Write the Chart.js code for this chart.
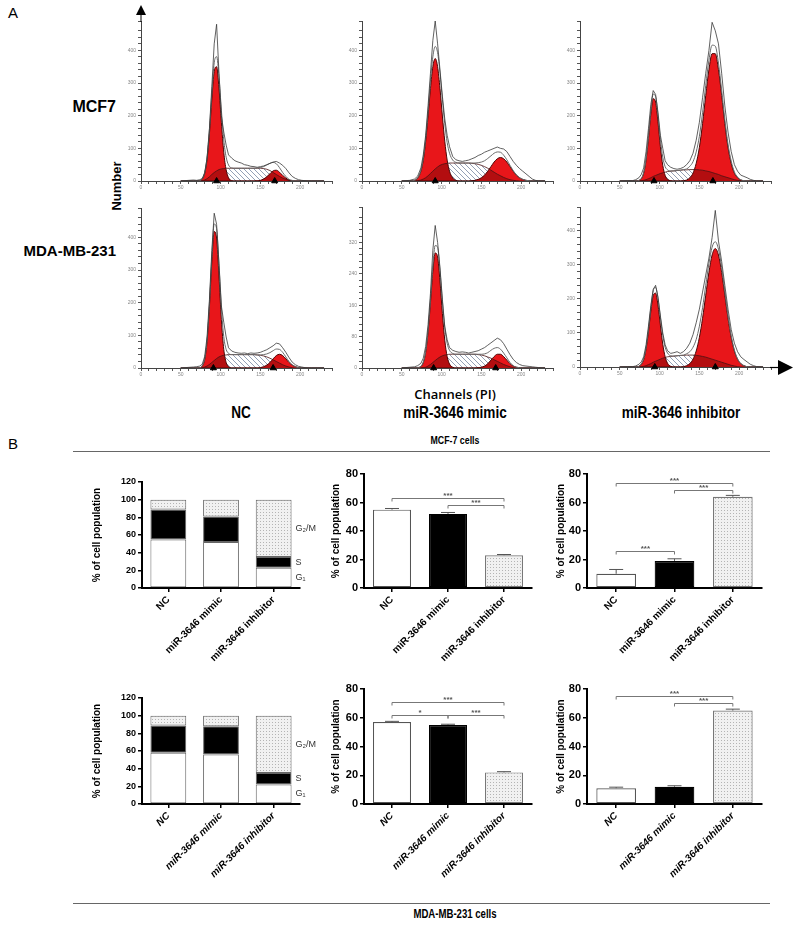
<!DOCTYPE html>
<html>
<head>
<meta charset="utf-8">
<script src="https://cdn.jsdelivr.net/npm/chart.js@4.4.1/dist/chart.umd.min.js"></script>
<style>
  body { margin: 0; background: #fff; width: 800px; height: 927px; position: relative; overflow: hidden;
         font-family: 'Liberation Sans', Arial, sans-serif; }
  canvas { position: absolute; }
  .c { position: absolute; white-space: nowrap; color: #000; transform: translate(-50%, -50%); }
  .r { position: absolute; white-space: nowrap; color: #000; transform: translate(-100%, -50%); }
  .rule { position: absolute; left: 73px; width: 697px; height: 0; border-top: 1.5px solid #666; }
  .narrow { font-weight: bold; transform: translate(-50%, -50%) scaleX(0.8); }
</style>
</head>
<body>

<div class="c" style="left:13px;top:12px;font-size:15px">A</div>
<div class="r" style="left:116px;top:107px;font-size:16px;font-weight:bold">MCF7</div>
<div class="r" style="left:116px;top:250px;font-size:15px;font-weight:bold">MDA-MB-231</div>
<div class="c" style="left:116px;top:186px;font-size:13px;font-weight:bold;transform:translate(-50%,-50%) rotate(-90deg)">Number</div>
<div class="c" style="left:455px;top:394px;font-size:13px;font-weight:600;font-family:'Open Sans',sans-serif">Channels (PI)</div>
<div class="c narrow" style="left:241px;top:413px;font-size:17px">NC</div>
<div class="c narrow" style="left:455px;top:413px;font-size:17px">miR-3646 mimic</div>
<div class="c narrow" style="left:681px;top:413px;font-size:17px">miR-3646 inhibitor</div>
<div class="c" style="left:13px;top:443px;font-size:15px">B</div>
<div class="c narrow" style="left:455px;top:440px;font-size:11px">MCF-7 cells</div>
<div class="rule" style="top:451px"></div>
<div class="rule" style="top:903px"></div>
<div class="c narrow" style="left:455px;top:914px;font-size:12px">MDA-MB-231 cells</div>

<script>
// channel positions shared by all histograms (PI channels)
const channels = [50,60,66,70,74, 77,80,83,86,89, 92,95,98,101,104, 107,110,114,118,122,
  126,130,134,138,142, 146,150,154,158,162, 166,170,174,178,182, 186,190,194,198,202,
  206,210,214,218,222, 230];

// MCF7 - NC
const mcfNcG1 = [0,0,0,0,1, 6,23,66,146,251, 336,350,284,180,88, 34,10,1,0,0, 0,0,0,0,0, 0,0,0,0,0, 0,0,0,0,0, 0,0,0,0,0, 0,0,0,0,0, 0];
const mcfNcS = [0,0,0,0,0, 1,3,7,13,20, 26,31,35,37,38, 39,39,39,39,39, 39,39,39,39,39, 39,39,38,36,32, 26,20,14,9,5, 2,1,0,0,0, 0,0,0,0,0, 0];
const mcfNcG2 = [0,0,0,0,0, 0,0,0,0,0, 0,0,0,0,0, 0,0,0,0,0, 0,0,0,0,0, 0.5,2,6,13,22, 31,33,27,17,9, 3,1,0,0,0, 0,0,0,0,0, 0];
const mcfNcRaw = [0,2,3,2,4, 8,25,70,160,290, 420,480,330,200,150, 110,80,70,62,58, 55,50,48,45,44, 42,44,46,50,54, 58,60,55,48,38, 25,14,8,4,2, 1,0,0,0,0, 0];
const mcfNcMarks = [95, 168];

// MCF7 - mimic
const mcfMimG1 = [0,0,2,9,30, 64,122,199,283,350, 375,350,283,199,122, 64,30,9,2,0, 0,0,0,0,0, 0,0,0,0,0, 0,0,0,0,0, 0,0,0,0,0, 0,0,0,0,0, 0];
const mcfMimS = [0,0,0,1,3, 6,10,16,23,30, 37,43,48,51,53, 54,55,55,55,55, 55,55,55,54,53, 51,48,44,39,33, 27,21,16,11,7, 4,2,1,0,0, 0,0,0,0,0, 0];
const mcfMimG2 = [0,0,0,0,0, 0,0,0,0,0, 0,0,0,0,0, 0,0,0,0,0, 0,0,0,1,2, 5,10,18,30,44, 58,68,72,68,58, 44,30,18,10,5, 2,1,0,0,0, 0];
const mcfMimRaw = [0,2,6,15,40, 80,140,230,330,430, 490,420,340,260,190, 140,105,75,65,62, 60,62,64,68,72, 78,82,88,92,96, 100,104,100,98,90, 75,60,48,38,30, 22,14,6,2,0, 0];
const mcfMimMarks = [92];

// MCF7 - inhibitor
const mcfInhG1 = [0,0,0,0,2, 7,24,64,130,205, 252,242,181,105,48, 17,5,1,0,0, 0,0,0,0,0, 0,0,0,0,0, 0,0,0,0,0, 0,0,0,0,0, 0,0,0,0,0, 0];
const mcfInhS = [0,0,0,0,0, 1,2,4,7,10, 14,17,20,23,25, 27,29,30,31,32, 33,34,34,35,35, 35,34,33,31,29, 26,23,20,16,13, 10,7,4,2,1, 0,0,0,0,0, 0];
const mcfInhG2 = [0,0,0,0,0, 0,0,0,0,0, 0,0,0,0,0, 0,0,0,0,0, 0,1,3,10,24, 54,103,176,262,341, 390,390,341,262,176, 103,54,24,10,3, 1,0,0,0,0, 0];
const mcfInhRaw = [0,1,1,4,10, 20,40,90,160,235, 277,265,210,140,100, 62,50,42,38,36, 38,42,50,62,85, 125,180,255,330,400, 486,460,420,330,230, 150,90,50,30,18, 14,10,5,2,0, 0];
const mcfInhMarks = [93, 167];

// MDA-MB-231 - NC
const mdaNcG1 = [0,0,0,0,1, 6,26,81,189,326, 418,398,281,148,57, 17,4,0,0,0, 0,0,0,0,0, 0,0,0,0,0, 0,0,0,0,0, 0,0,0,0,0, 0,0,0,0,0, 0];
const mdaNcS = [0,0,0,0,0, 1,3,6,11,17, 23,29,34,37,39, 40,41,41,41,41, 41,41,41,41,41, 40,39,37,34,30, 25,20,15,10,6, 3,1,0,0,0, 0,0,0,0,0, 0];
const mdaNcG2 = [0,0,0,0,0, 0,0,0,0,0, 0,0,0,0,0, 0,0,0,0,0, 0,0,0,0,0, 0,1,4,9,17, 28,38,42,38,28, 17,9,4,1,0, 0,0,0,0,0, 0];
const mdaNcRaw = [0,2,3,4,6, 12,35,95,210,360, 474,440,320,190,140, 95,62,52,48,46, 45,46,44,46,45, 46,48,52,56,62, 68,76,74,62,48, 32,18,10,5,3, 1,0,0,0,0, 0];
const mdaNcMarks = [91, 166];

// MDA-MB-231 - mimic
const mdaMimG1 = [0,0,0,1,4, 14,40,91,166,246, 293,283,221,139,71, 29,10,2,0,0, 0,0,0,0,0, 0,0,0,0,0, 0,0,0,0,0, 0,0,0,0,0, 0,0,0,0,0, 0];
const mdaMimS = [0,0,0,0,0, 1,2,5,9,14, 19,24,28,31,33, 34,35,35,35,35, 35,35,35,35,35, 34,33,31,28,25, 21,17,13,9,6, 3,1,0,0,0, 0,0,0,0,0, 0];
const mdaMimG2 = [0,0,0,0,0, 0,0,0,0,0, 0,0,0,0,0, 0,0,0,0,0, 0,0,0,0,0, 1,2,5,11,20, 29,35,35,29,20, 11,5,2,1,0, 0,0,0,0,0, 0];
const mdaMimRaw = [0,2,3,6,12, 25,55,110,190,300, 363,320,255,175,105, 72,52,45,42,40, 41,40,38,40,42, 44,48,52,58,64, 70,76,72,62,48, 34,22,14,9,6, 5,4,3,2,1, 0];
const mdaMimMarks = [90, 168];

// MDA-MB-231 - inhibitor
const mdaInhG1 = [0,0,0,0,2, 8,22,53,103,164, 210,217,182,123,67, 30,11,2,0,0, 0,0,0,0,0, 0,0,0,0,0, 0,0,0,0,0, 0,0,0,0,0, 0,0,0,0,0, 0];
const mdaInhS = [0,0,0,0,0, 1,2,4,7,10, 14,17,20,23,26, 28,30,31,32,33, 34,34,35,35,35, 34,33,31,29,26, 23,20,17,14,11, 8,5,3,1,0, 0,0,0,0,0, 0];
const mdaInhG2 = [0,0,0,0,0, 0,0,0,0,0, 0,0,0,0,0, 0,0,0,0,0, 0,1,4,10,23, 47,87,143,211,278, 329,348,329,278,211, 143,87,47,23,10, 4,1,0,0,0, 0];
const mdaInhRaw = [0,1,1,3,8, 15,30,65,120,180, 228,240,205,150,100, 65,48,40,42,45, 40,45,55,70,95, 130,170,220,270,320, 380,460,370,310,240, 170,110,70,45,30, 22,15,8,4,1, 0];
const mdaInhMarks = [94, 170];

// panel B
const groups = ['NC', 'miR-3646 mimic', 'miR-3646 inhibitor'];
const phaseLabels = ['G\u2081', 'S', 'G\u2082/M'];

const mcfStackG1 = [55, 52, 23];
const mcfStackS = [34, 29, 12];
const mcfStackG2M = [11, 19, 65];
const mcfG1Mean = [55, 52, 23];
const mcfG1Err = [0.8, 1, 0.5];
const mcfG1Sig = [[0, 2, 63, '***'], [1, 2, 58, '***']];
const mcfG2Mean = [10, 19, 64];
const mcfG2Err = [3, 1.5, 1];
const mcfG2Sig = [[0, 2, 74, '***'], [1, 2, 69, '***'], [0, 1, 26, '***']];

const mdaStackG1 = [58, 56, 22];
const mdaStackS = [31, 32, 13];
const mdaStackG2M = [11, 12, 65];
const mdaG1Mean = [57, 55, 22];
const mdaG1Err = [0.5, 0.5, 0.5];
const mdaG1Sig = [[0, 2, 71, '***'], [0, 1, 62, '*'], [1, 2, 62, '***']];
const mdaG2Mean = [11, 12, 65];
const mdaG2Err = [0.7, 0.7, 1];
const mdaG2Sig = [[0, 2, 75, '***'], [1, 2, 70, '***']];

const FONT = "'Liberation Sans', Arial, sans-serif";
const RED = '#e8161a';
Chart.defaults.font.family = FONT;

function addCanvas(left, top, w, h) {
  const c = document.createElement('canvas');
  c.width = w; c.height = h;
  c.style.left = left + 'px'; c.style.top = top + 'px';
  c.style.width = w + 'px'; c.style.height = h + 'px';
  document.body.appendChild(c);
  return c.getContext('2d');
}

// diagonal hatch for the S phase
function makeHatch() {
  const p = document.createElement('canvas');
  p.width = 5; p.height = 5;
  const g = p.getContext('2d');
  g.strokeStyle = '#8795ad'; g.lineWidth = 0.9;
  g.beginPath();
  g.moveTo(-1, -1); g.lineTo(6, 6);
  g.moveTo(4, -1); g.lineTo(6, 1);
  g.moveTo(-1, 4); g.lineTo(1, 6);
  g.stroke();
  return g.createPattern(p, 'repeat');
}

// light dotted fill used for G2/M and inhibitor bars
function makeDots() {
  const p = document.createElement('canvas');
  p.width = 3; p.height = 3;
  const g = p.getContext('2d');
  g.fillStyle = '#f1f1f1'; g.fillRect(0, 0, 3, 3);
  g.fillStyle = '#b4b4b4'; g.fillRect(1, 1, 1, 1);
  return g.createPattern(p, 'repeat');
}

const hatch = makeHatch();
const dots = makeDots();

function histogram(box, g1, s, g2, raw, marks, ymax, yStep, yLabel) {
  const padL = 24, padT = 14, padR = 8, padB = 16;
  const w = box.x1 - box.x0 + padL + padR;
  const h = box.y1 - box.y0 + padT + padB;
  const ctx = addCanvas(box.x0 - padL, box.y0 - padT, w, h);
  const pts = arr => channels.map((c, i) => ({x: c, y: arr[i]}));
  const fit = channels.map((c, i) => g1[i] + s[i] + g2[i]);
  const sRed = channels.map((c, i) => Math.min(s[i], g1[i] + g2[i]));
  const smooth = 'monotone';
  new Chart(ctx, {
    type: 'line',
    data: {
      datasets: [
        {data: pts(raw), borderColor: '#383838', borderWidth: 0.8, tension: 0, order: 0},
        {data: pts(fit), borderColor: '#6a6a6a', borderWidth: 1, cubicInterpolationMode: smooth, order: 1},
        {data: pts(s), borderColor: '#4a1212', borderWidth: 0.8, cubicInterpolationMode: smooth, order: 2},
        {data: pts(sRed), borderWidth: 0, backgroundColor: 'rgba(80,0,0,0.35)', fill: 'origin', cubicInterpolationMode: smooth, order: 3},
        {data: pts(g2), borderColor: '#4a0606', borderWidth: 1, backgroundColor: RED, fill: 'origin', cubicInterpolationMode: smooth, order: 4},
        {data: pts(g1), borderColor: '#4a0606', borderWidth: 1, backgroundColor: RED, fill: 'origin', cubicInterpolationMode: smooth, order: 5},
        {data: pts(s), borderWidth: 0, backgroundColor: hatch, fill: 'origin', cubicInterpolationMode: smooth, order: 6},
        {type: 'scatter', data: marks.map(m => ({x: m, y: 0})), pointStyle: 'triangle', pointRadius: 3.5,
         backgroundColor: '#000', borderColor: '#000', clip: false, order: -1}
      ]
    },
    options: {
      responsive: false, animation: false, devicePixelRatio: 1,
      layout: {padding: {top: padT, right: padR, left: 0, bottom: 0}},
      elements: {point: {radius: 0}},
      plugins: {legend: {display: false}, tooltip: {enabled: false}},
      scales: {
        x: {
          type: 'linear', min: 0, max: 240,
          afterFit: sc => { sc.height = padB; },
          ticks: {stepSize: 10, autoSkip: false, maxRotation: 0, color: '#888', padding: 1, font: {size: 5},
                  callback: v => (v % 50 === 0 ? v : '')},
          grid: {drawOnChartArea: false, tickLength: 3, color: '#555'},
          border: {color: '#444', width: 1}
        },
        y: {
          min: 0, max: ymax,
          afterFit: sc => { sc.width = padL; },
          ticks: {stepSize: yStep, autoSkip: false, color: '#888', padding: 2, font: {size: 5},
                  callback: v => (v % yLabel === 0 ? v : '')},
          grid: {drawOnChartArea: false, tickLength: 3, color: '#555'},
          border: {color: '#444', width: 1}
        }
      }
    }
  });
}

histogram({x0: 141, x1: 332, y0: 21, y1: 181}, mcfNcG1, mcfNcS, mcfNcG2, mcfNcRaw, mcfNcMarks, 490, 20, 100);
histogram({x0: 362, x1: 553, y0: 21, y1: 181}, mcfMimG1, mcfMimS, mcfMimG2, mcfMimRaw, mcfMimMarks, 490, 20, 100);
histogram({x0: 580, x1: 771, y0: 21, y1: 181}, mcfInhG1, mcfInhS, mcfInhG2, mcfInhRaw, mcfInhMarks, 490, 20, 100);
histogram({x0: 141, x1: 332, y0: 208, y1: 368}, mdaNcG1, mdaNcS, mdaNcG2, mdaNcRaw, mdaNcMarks, 490, 20, 100);
histogram({x0: 362, x1: 553, y0: 207, y1: 368}, mdaMimG1, mdaMimS, mdaMimG2, mdaMimRaw, mdaMimMarks, 410, 16, 80);
histogram({x0: 580, x1: 771, y0: 207, y1: 367}, mdaInhG1, mdaInhS, mdaInhG2, mdaInhRaw, mdaInhMarks, 470, 20, 100);

// error bars, significance brackets and phase labels
const barMarks = {
  id: 'barMarks',
  afterDatasetsDraw(chart, args, o) {
    const {ctx} = chart;
    const y = chart.scales.y;
    ctx.save();
    ctx.strokeStyle = '#555';
    ctx.lineWidth = 1;
    if (o.errs) {
      const meta = chart.getDatasetMeta(0);
      const vals = chart.data.datasets[0].data;
      meta.data.forEach((bar, i) => {
        const yt = y.getPixelForValue(vals[i] + o.errs[i]);
        ctx.beginPath();
        ctx.moveTo(bar.x, bar.y); ctx.lineTo(bar.x, yt);
        ctx.moveTo(bar.x - 7, yt); ctx.lineTo(bar.x + 7, yt);
        ctx.stroke();
      });
    }
    if (o.sig) {
      const meta = chart.getDatasetMeta(0);
      ctx.strokeStyle = '#777';
      ctx.fillStyle = '#555';
      ctx.font = 'bold 8px ' + FONT;
      ctx.textAlign = 'center';
      ctx.textBaseline = 'bottom';
      o.sig.forEach(([a, b, val, label]) => {
        const xa = meta.data[a].x, xb = meta.data[b].x;
        const yy = Math.round(y.getPixelForValue(val)) + 0.5;
        ctx.beginPath();
        ctx.moveTo(xa, yy + 3); ctx.lineTo(xa, yy); ctx.lineTo(xb, yy); ctx.lineTo(xb, yy + 3);
        ctx.stroke();
        ctx.fillText(label, (xa + xb) / 2, yy + 1);
      });
    }
    if (o.phases) {
      ctx.fillStyle = '#333';
      ctx.font = '9px ' + FONT;
      ctx.textAlign = 'left';
      ctx.textBaseline = 'middle';
      o.phases.forEach((lab, d) => {
        const el = chart.getDatasetMeta(d).data[2];
        ctx.fillText(lab, el.x + el.width / 2 + 4, (el.y + el.base) / 2);
      });
    }
    ctx.restore();
  }
};

function barChart(o) {
  const padT = 10, padR = o.padR || 8, padB = 80;
  const w = o.x1 - o.left + padR;
  const h = o.y1 - o.y0 + padT + padB;
  const ctx = addCanvas(o.left, o.y0 - padT, w, h);
  new Chart(ctx, {
    type: 'bar',
    data: {labels: groups, datasets: o.datasets},
    options: {
      responsive: false, animation: false, devicePixelRatio: 1,
      layout: {padding: {top: padT, right: padR, left: 0, bottom: 0}},
      plugins: {legend: {display: false}, tooltip: {enabled: false},
                barMarks: {errs: o.errs, sig: o.sig, phases: o.phases}},
      scales: {
        x: {
          stacked: !!o.stacked,
          afterFit: sc => { sc.height = padB; },
          grid: {offset: false, drawOnChartArea: false, tickLength: 4, color: '#000', lineWidth: 1.5},
          border: {color: '#000', width: 2},
          ticks: {autoSkip: false, minRotation: 45, maxRotation: 45, color: '#000', padding: 2,
                  font: {size: 10, weight: 'bold', style: o.italic ? 'italic' : 'normal'}}
        },
        y: {
          stacked: !!o.stacked, min: 0, max: o.ymax,
          afterFit: sc => { sc.width = o.x0 - o.left; },
          ticks: {stepSize: 20, color: '#000', padding: 2,
                  font: {size: o.stacked ? 9 : 11, weight: 'bold'}},
          grid: {drawOnChartArea: false, tickLength: 4, color: '#000', lineWidth: 1.5},
          border: {color: '#000', width: 2},
          title: {display: true, text: '% of cell population', color: '#000', padding: {top: 0, bottom: 0},
                  font: {size: 10, weight: 'bold'}}
        }
      }
    },
    plugins: [barMarks]
  });
}

function stackSets(g1, s, g2m) {
  const common = {borderColor: '#666', borderWidth: 1, borderSkipped: false, barPercentage: 0.68, categoryPercentage: 1};
  return [
    Object.assign({data: g1, backgroundColor: '#fff'}, common),
    Object.assign({data: s, backgroundColor: '#000'}, common),
    Object.assign({data: g2m, backgroundColor: dots}, common)
  ];
}

function singleSet(vals) {
  return [{data: vals, backgroundColor: ['#fff', '#000', dots], borderColor: ['#555', '#000', '#777'],
           borderWidth: 1.2, borderSkipped: false, barPercentage: 0.68, categoryPercentage: 1}];
}

// MCF-7 row
barChart({left: 91, x0: 142, x1: 300, y0: 482, y1: 588, ymax: 120, stacked: true, padR: 36,
          datasets: stackSets(mcfStackG1, mcfStackS, mcfStackG2M), phases: phaseLabels});
barChart({left: 330, x0: 364, x1: 532, y0: 474, y1: 588, ymax: 80,
          datasets: singleSet(mcfG1Mean), errs: mcfG1Err, sig: mcfG1Sig});
barChart({left: 555, x0: 587, x1: 762, y0: 474, y1: 588, ymax: 80,
          datasets: singleSet(mcfG2Mean), errs: mcfG2Err, sig: mcfG2Sig});

// MDA-MB-231 row
barChart({left: 91, x0: 142, x1: 300, y0: 698, y1: 804, ymax: 120, stacked: true, padR: 36, italic: true,
          datasets: stackSets(mdaStackG1, mdaStackS, mdaStackG2M), phases: phaseLabels});
barChart({left: 330, x0: 364, x1: 532, y0: 689, y1: 804, ymax: 80, italic: true,
          datasets: singleSet(mdaG1Mean), errs: mdaG1Err, sig: mdaG1Sig});
barChart({left: 555, x0: 587, x1: 762, y0: 689, y1: 804, ymax: 80, italic: true,
          datasets: singleSet(mdaG2Mean), errs: mdaG2Err, sig: mdaG2Sig});
</script>

<svg width="800" height="927" style="position:absolute;left:0;top:0;pointer-events:none">
  <line x1="141" y1="14" x2="141" y2="22" stroke="#000" stroke-width="1"/>
  <polygon points="141,5 136,15 146,15" fill="#000"/>
  <line x1="770" y1="367.5" x2="779" y2="367.5" stroke="#000" stroke-width="1.2"/>
  <polygon points="778,360 778,375 793,367.5" fill="#000"/>
</svg>
</body>
</html>
